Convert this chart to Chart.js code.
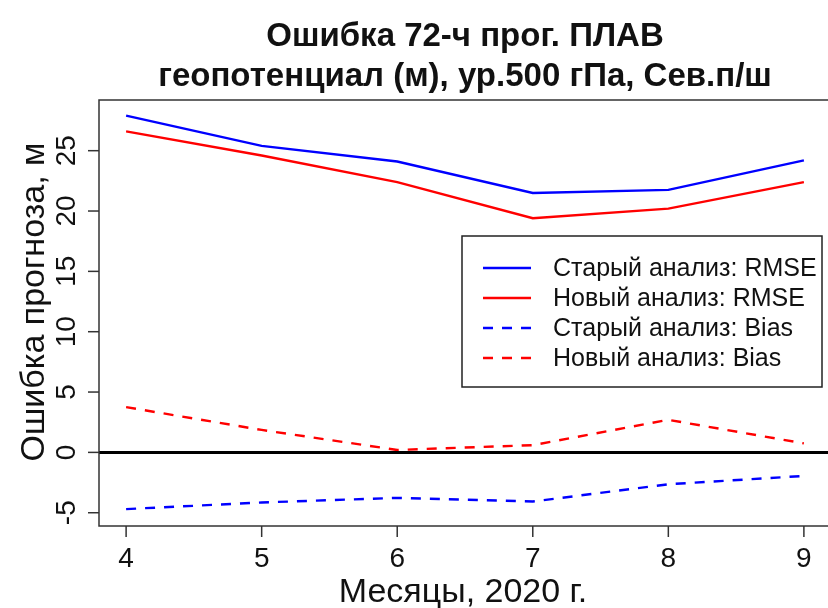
<!DOCTYPE html>
<html>
<head>
<meta charset="utf-8">
<script src="https://cdn.jsdelivr.net/npm/chart.js@4/dist/chart.umd.min.js"></script>
<style>
  html, body { margin: 0; padding: 0; background: #fff; width: 828px; height: 608px; overflow: hidden; }
  #wrap { width: 836px; height: 608px; position: relative; }
</style>
</head>
<body>
<div id="wrap"><canvas id="c" width="836" height="608"></canvas></div>
<script>
// Months of 2020 and the forecast error statistics (m)
const months  = [4, 5, 6, 7, 8, 9];
const oldRmse = [27.9, 25.4, 24.1, 21.5, 21.75, 24.2];
const newRmse = [26.6, 24.6, 22.4, 19.4, 20.2, 22.4];
const oldBias = [-4.7, -4.15, -3.77, -4.07, -2.64, -1.95];
const newBias = [3.75, 1.86, 0.2, 0.6, 2.7, 0.75];

const yTicks = [-5, 0, 5, 10, 15, 20, 25];
const xTicks = [4, 5, 6, 7, 8, 9];

const seriesLabels = [
  'Старый анализ: RMSE',
  'Новый анализ: RMSE',
  'Старый анализ: Bias',
  'Новый анализ: Bias'
];
const titleLines = [
  'Ошибка 72-ч прог. ПЛАВ',
  'геопотенциал (м), ур.500 гПа, Сев.п/ш'
];
const xTitle = 'Месяцы, 2020 г.';
const yTitle = 'Ошибка прогноза, м';

const FONT = '"Liberation Sans", Arial, sans-serif';
const DASH = [10, 9];

function pts(vals) { return months.map((m, i) => ({ x: m, y: vals[i] })); }

function series(label, vals, color, dashed) {
  return {
    label: label,
    data: pts(vals),
    borderColor: color,
    backgroundColor: color,
    borderWidth: 2.4,
    borderDash: dashed ? DASH : [],
    pointRadius: 0,
    tension: 0,
    fill: false
  };
}

// R-style frame, axes, titles, reference line and legend
const rFrame = {
  id: 'rFrame',
  afterDatasetsDraw(chart) {
    const ctx = chart.ctx;
    const a = chart.chartArea;
    const xs = chart.scales.x, ys = chart.scales.y;
    ctx.save();

    // zero line
    const y0 = ys.getPixelForValue(0);
    ctx.strokeStyle = '#000';
    ctx.lineWidth = 3;
    ctx.setLineDash([]);
    ctx.beginPath();
    ctx.moveTo(a.left, y0);
    ctx.lineTo(a.right, y0);
    ctx.stroke();

    // plot box
    ctx.strokeStyle = '#333';
    ctx.lineWidth = 1.5;
    ctx.strokeRect(a.left, a.top, a.right - a.left, a.bottom - a.top);

    // y axis ticks and rotated labels
    ctx.fillStyle = '#111';
    ctx.font = '28px ' + FONT;
    yTicks.forEach(v => {
      const py = ys.getPixelForValue(v);
      ctx.beginPath();
      ctx.moveTo(a.left - 11, py);
      ctx.lineTo(a.left, py);
      ctx.stroke();
      ctx.save();
      ctx.translate(75, py);
      ctx.rotate(-Math.PI / 2);
      ctx.textAlign = 'center';
      ctx.textBaseline = 'alphabetic';
      ctx.fillText(String(v), 0, 0);
      ctx.restore();
    });

    // x axis ticks and labels
    xTicks.forEach(v => {
      const px = xs.getPixelForValue(v);
      ctx.beginPath();
      ctx.moveTo(px, a.bottom);
      ctx.lineTo(px, a.bottom + 11);
      ctx.stroke();
      ctx.textAlign = 'center';
      ctx.textBaseline = 'alphabetic';
      ctx.fillText(String(v), px, 567);
    });

    // axis titles
    ctx.font = '34px ' + FONT;
    ctx.textAlign = 'center';
    ctx.fillText(xTitle, (a.left + a.right) / 2 - 2, 602);
    ctx.save();
    ctx.translate(44, 302);
    ctx.rotate(-Math.PI / 2);
    ctx.fillText(yTitle, 0, 0);
    ctx.restore();

    // main title
    ctx.font = 'bold 33px ' + FONT;
    const cx = (a.left + a.right) / 2;
    ctx.fillText(titleLines[0], cx, 46);
    ctx.fillText(titleLines[1], cx, 86);

    // legend
    const lx = 462, ly = 236, lw = 360, lh = 151;
    ctx.fillStyle = '#fff';
    ctx.fillRect(lx, ly, lw, lh);
    ctx.strokeStyle = '#222';
    ctx.lineWidth = 1.5;
    ctx.strokeRect(lx, ly, lw, lh);
    ctx.font = '25px ' + FONT;
    ctx.textAlign = 'left';
    ctx.textBaseline = 'middle';
    chart.data.datasets.forEach((ds, i) => {
      const ry = 268 + i * 30;
      ctx.strokeStyle = ds.borderColor;
      ctx.lineWidth = ds.borderWidth;
      ctx.setLineDash(ds.borderDash);
      ctx.beginPath();
      ctx.moveTo(483, ry);
      ctx.lineTo(531, ry);
      ctx.stroke();
      ctx.setLineDash([]);
      ctx.fillStyle = '#111';
      ctx.fillText(ds.label, 553, ry + 1);
    });

    ctx.restore();
  }
};

new Chart(document.getElementById('c'), {
  type: 'line',
  data: {
    datasets: [
      series(seriesLabels[0], oldRmse, '#0000ff', false),
      series(seriesLabels[1], newRmse, '#ff0000', false),
      series(seriesLabels[2], oldBias, '#0000ff', true),
      series(seriesLabels[3], newBias, '#ff0000', true)
    ]
  },
  options: {
    responsive: false,
    animation: false,
    devicePixelRatio: 1,
    layout: { padding: { left: 99, top: 100, right: 5, bottom: 82 } },
    plugins: { legend: { display: false }, tooltip: { enabled: false }, title: { display: false } },
    scales: {
      x: { type: 'linear', display: false, min: 3.8, max: 9.2 },
      y: { type: 'linear', display: false, min: -6.1, max: 29.2 }
    }
  },
  plugins: [rFrame]
});
</script>
</body>
</html>
